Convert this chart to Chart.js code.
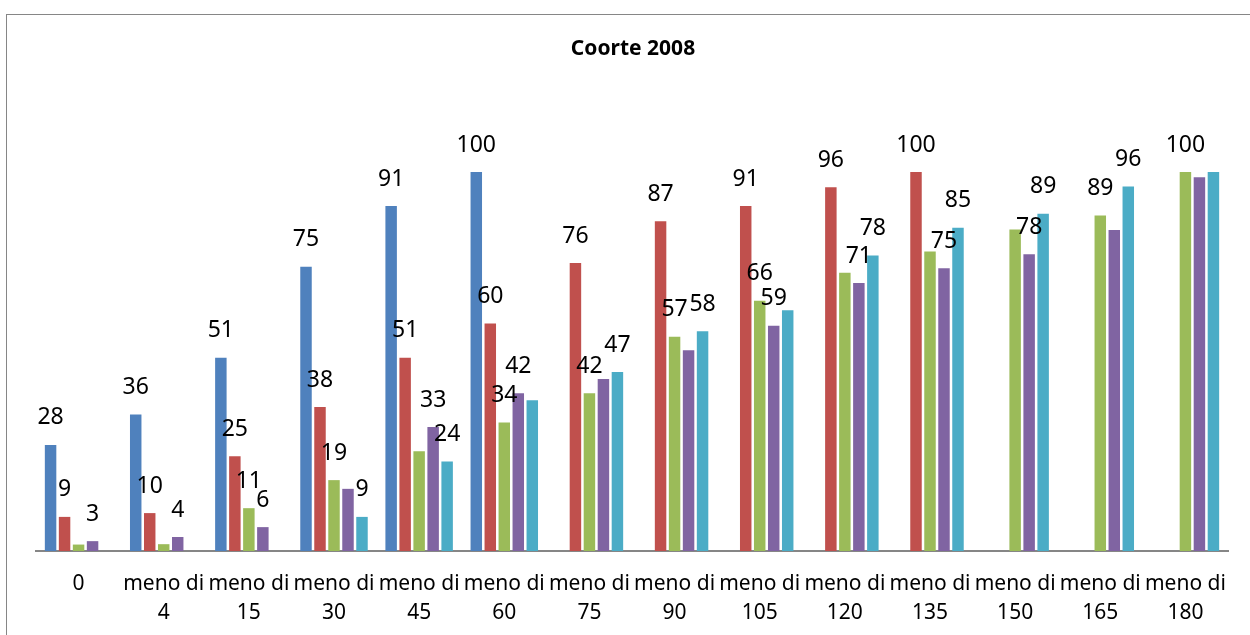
<!DOCTYPE html>
<html>
<head>
<meta charset="utf-8">
<script src="https://cdn.jsdelivr.net/npm/chart.js@4.4.1/dist/chart.umd.min.js"></script>
<style>
  html, body { margin: 0; padding: 0; background: #fff; }
  #wrap { position: relative; width: 1250px; height: 635px; overflow: hidden; }
  #frame { position: absolute; left: 6px; top: 14px; width: 1300px; height: 700px; border: 1px solid #868686; box-sizing: border-box; }
  canvas { position: absolute; left: 0; top: 0; }
</style>
</head>
<body>
<div id="wrap">
  <div id="frame"></div>
  <canvas id="c" width="1250" height="635"></canvas>
</div>
<script>
const chartTitle = 'Coorte 2008';
const categories = [
  ['0'], ['meno di', '4'], ['meno di', '15'], ['meno di', '30'], ['meno di', '45'],
  ['meno di', '60'], ['meno di', '75'], ['meno di', '90'], ['meno di', '105'],
  ['meno di', '120'], ['meno di', '135'], ['meno di', '150'], ['meno di', '165'], ['meno di', '180']
];
const seriesBlue   = [28, 36, 51, 75, 91, 100, null, null, null, null, null, null, null, null];
const seriesRed    = [9, 10, 25, 38, 51, 60, 76, 87, 91, 96, 100, null, null, null];
const seriesGreen  = [1.7, 1.8, 11.3, 18.7, 26.3, 33.9, 41.6, 56.5, 66, 73.4, 79, 84.8, 88.5, 100];
const seriesPurple = [2.6, 3.7, 6.3, 16.4, 32.7, 41.6, 45.4, 53, 59.4, 70.7, 74.6, 78.3, 84.7, 98.6];
const seriesCyan   = [null, null, null, 9, 23.6, 39.8, 47.2, 58, 63.5, 78, 85.3, 89, 96.2, 100];
// which data labels are displayed in the original
const labelsBlue   = [1,1,1,1,1,1,0,0,0,0,0,0,0,0];
const labelsRed    = [1,1,1,1,1,1,1,1,1,1,1,0,0,0];
const labelsGreen  = [0,0,1,1,0,1,1,1,1,0,0,0,1,1];
const labelsPurple = [1,1,1,0,1,1,0,0,1,1,1,1,0,0];
const labelsCyan   = [0,0,0,1,1,0,1,1,0,1,1,1,1,0];

const FONT = '"Noto Sans", "Open Sans", sans-serif';

const mkSet = (data, shown, color) => ({
  data, shown, backgroundColor: color, borderWidth: 0,
  categoryPercentage: 0.822, barPercentage: 0.82
});

const labelPlugin = {
  id: 'valueLabels',
  afterDatasetsDraw(chart) {
    const ctx = chart.ctx;
    ctx.save();
    ctx.font = '23px ' + FONT;
    ctx.fillStyle = '#000';
    ctx.textAlign = 'center';
    ctx.textBaseline = 'middle';
    chart.data.datasets.forEach((ds, i) => {
      const meta = chart.getDatasetMeta(i);
      meta.data.forEach((bar, j) => {
        const v = ds.data[j];
        if (v == null || !ds.shown[j]) return;
        ctx.fillText(String(Math.round(v)), bar.x, bar.y - 27);
      });
    });
    ctx.restore();
  }
};

const titlePlugin = {
  id: 'fixedTitle',
  afterDraw(chart) {
    const ctx = chart.ctx;
    ctx.save();
    ctx.font = 'bold 21px ' + FONT;
    ctx.fillStyle = '#000';
    ctx.textAlign = 'center';
    ctx.textBaseline = 'middle';
    ctx.fillText(chartTitle, 633, 49);
    ctx.restore();
  }
};

new Chart(document.getElementById('c'), {
  type: 'bar',
  data: {
    labels: categories,
    datasets: [
      mkSet(seriesBlue, labelsBlue, '#4F81BD'),
      mkSet(seriesRed, labelsRed, '#C0504D'),
      mkSet(seriesGreen, labelsGreen, '#9BBB59'),
      mkSet(seriesPurple, labelsPurple, '#8064A2'),
      mkSet(seriesCyan, labelsCyan, '#4BACC6')
    ]
  },
  options: {
    responsive: false,
    animation: false,
    layout: { padding: { top: 172, left: 36, right: 22, bottom: 0 } },
    plugins: { legend: { display: false }, title: { display: false }, tooltip: { enabled: false } },
    scales: {
      x: {
        grid: { display: false },
        border: { color: '#868686', width: 2 },
        afterFit(scale) { scale.height = 84; },
        ticks: {
          color: '#000', font: { family: FONT, size: 21, lineHeight: 1.35 },
          maxRotation: 0, autoSkip: false, padding: 11
        }
      },
      y: { display: false, min: 0, max: 100 }
    }
  },
  plugins: [labelPlugin, titlePlugin]
});
</script>
</body>
</html>
